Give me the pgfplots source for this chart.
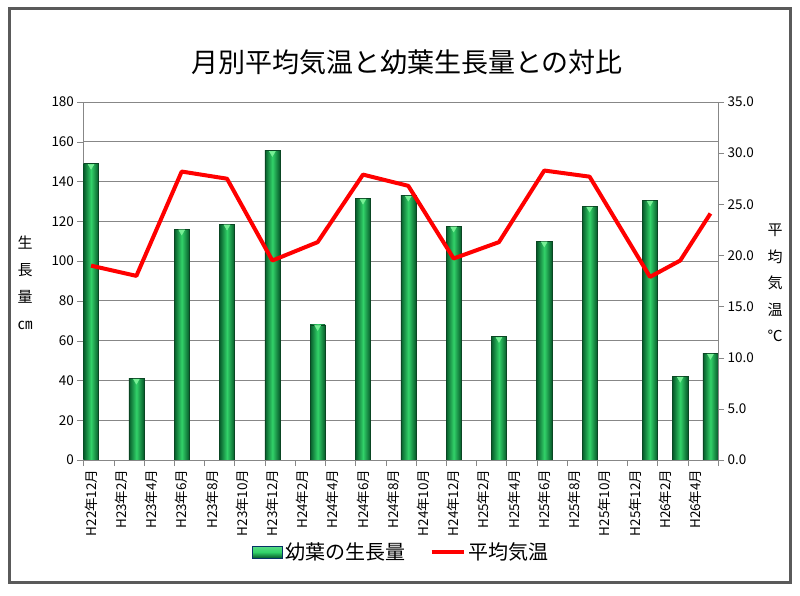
\documentclass[border=0pt]{standalone}
\usepackage{pgfplots}
\pgfplotsset{compat=1.18}
\usepackage{fontspec}
\setmainfont{Noto Sans CJK JP}
\definecolor{barDark}{RGB}{6,90,42}
\definecolor{barLight}{RGB}{50,210,105}
\definecolor{barEdge}{RGB}{10,70,35}
\definecolor{barCap}{RGB}{120,240,150}
\definecolor{axgray}{RGB}{135,135,135}
\definecolor{frame}{RGB}{90,90,90}
\pgfplotsset{gbar/.style={ybar, bar width=1, bar shift=0pt, draw=barEdge, line width=0.5bp, left color=barDark, right color=barDark, middle color=barLight}}
\pgfplotstableread{
x   g
0.5  149
3.5  41
6.5  116
9.5  118.5
12.5 155.5
15.5 68
18.5 131.5
21.5 133
24.5 117.5
27.5 62
30.5 110
33.5 127.5
37.5 130.5
39.5 42
41.5 53.5
}\growth
\pgfplotstableread{
x   t
0.5  19.0
3.5  18.0
6.5  28.2
9.5  27.5
12.5 19.5
15.5 21.3
18.5 27.9
21.5 26.8
24.5 19.7
27.5 21.3
30.5 28.3
33.5 27.7
37.5 17.9
39.5 19.5
41.5 24.1
}\temp
\begin{document}
\begin{tikzpicture}
\useasboundingbox (0bp,0bp) rectangle (800bp,596bp);
\fill[white] (0bp,0bp) rectangle (800bp,596bp);
\draw[frame, line width=3bp] (9bp,13bp) rectangle (790bp,587bp);
\begin{axis}[
  scale only axis, width=634.5bp, height=358bp,
  at={(83.5bp,136bp)}, anchor=south west,
  xmin=0, xmax=42, ymin=0, ymax=180,
  ytick={0,20,...,180},
  ytick pos=left, xtick pos=bottom,
  tick align=outside,
  major tick length=6bp, minor tick length=6bp,
  axis line style={draw=axgray},
  ymajorgrids, major grid style={axgray, line width=0.8bp},
  xtick={0.5,2.5,...,40.5},
  xticklabels={H22年12月,H23年2月,H23年4月,H23年6月,H23年8月,H23年10月,H23年12月,H24年2月,H24年4月,H24年6月,H24年8月,H24年10月,H24年12月,H25年2月,H25年4月,H25年6月,H25年8月,H25年10月,H25年12月,H26年2月,H26年4月},
  major x tick style={draw=none},
  minor xtick={0,2,...,42},
  minor x tick style={draw=axgray},
  y tick style={draw=axgray},
  xticklabel style={rotate=90, anchor=east, font=\fontsize{13.5bp}{14bp}\selectfont},
  yticklabel style={font=\fontsize{13.5bp}{14bp}\selectfont},
  /pgf/number format/assume math mode=true,
  title={月別平均気温と幼葉生長量との対比},
  title style={font=\fontsize{27bp}{30bp}\selectfont, at={(axis description cs:0.51,1.095)}, anchor=center},
  ylabel={生\\長\\量\\㎝},
  ylabel style={rotate=-90, align=center, font=\fontsize{15bp}{27bp}\selectfont, at={(axis description cs:-0.092,0.494)}, anchor=center},
]
\addplot[gbar] coordinates {(0.5,149)};
\addplot[gbar] coordinates {(3.5,41)};
\addplot[gbar] coordinates {(6.5,116)};
\addplot[gbar] coordinates {(9.5,118.5)};
\addplot[gbar] coordinates {(12.5,155.5)};
\addplot[gbar] coordinates {(15.5,68)};
\addplot[gbar] coordinates {(18.5,131.5)};
\addplot[gbar] coordinates {(21.5,133)};
\addplot[gbar] coordinates {(24.5,117.5)};
\addplot[gbar] coordinates {(27.5,62)};
\addplot[gbar] coordinates {(30.5,110)};
\addplot[gbar] coordinates {(33.5,127.5)};
\addplot[gbar] coordinates {(37.5,130.5)};
\addplot[gbar] coordinates {(39.5,42)};
\addplot[gbar] coordinates {(41.5,53.5)};
\addplot[only marks, mark=triangle*, mark size=3.4bp, mark options={yshift=-2.3bp, rotate=180, fill=barCap, draw=barCap}] table[x=x,y=g] {\growth};
\end{axis}
\begin{axis}[
  scale only axis, width=634.5bp, height=358bp,
  at={(83.5bp,136bp)}, anchor=south west,
  xmin=0, xmax=42, ymin=0, ymax=35,
  ytick={0,5,...,35},
  axis y line*=right, axis x line=none,
  tick align=outside, major tick length=6bp,
  axis line style={draw=axgray},
  y tick style={draw=axgray},
  yticklabel style={font=\fontsize{13.5bp}{14bp}\selectfont, /pgf/number format/.cd, fixed, fixed zerofill, precision=1},
  /pgf/number format/assume math mode=true,
  ylabel={平\\均\\気\\温\\℃},
  ylabel style={rotate=-90, align=center, font=\fontsize{15bp}{26.5bp}\selectfont, at={(axis description cs:1.09,0.494)}, anchor=center},
  legend columns=2,
  legend style={at={(axis description cs:0.501,-0.257)}, anchor=center, draw=none, fill=none,
    font=\fontsize{20bp}{22bp}\selectfont,
    /tikz/every even column/.append style={column sep=22bp},
    /tikz/every odd column/.append style={column sep=1bp}},
]
\addlegendimage{legend image code/.code={\draw[draw=barEdge!70!blue, top color=barLight!80!white, bottom color=barDark, middle color=barLight] (0bp,-6bp) rectangle (30bp,6bp);}}
\addlegendentry{幼葉の生長量}
\addplot[red, line width=4bp, line join=round, legend image code/.code={\draw[red, line width=4bp] (0bp,0bp) -- (32bp,0bp);}] table[x=x,y=t] {\temp};
\addlegendentry{平均気温}
\end{axis}
\end{tikzpicture}
\end{document}
